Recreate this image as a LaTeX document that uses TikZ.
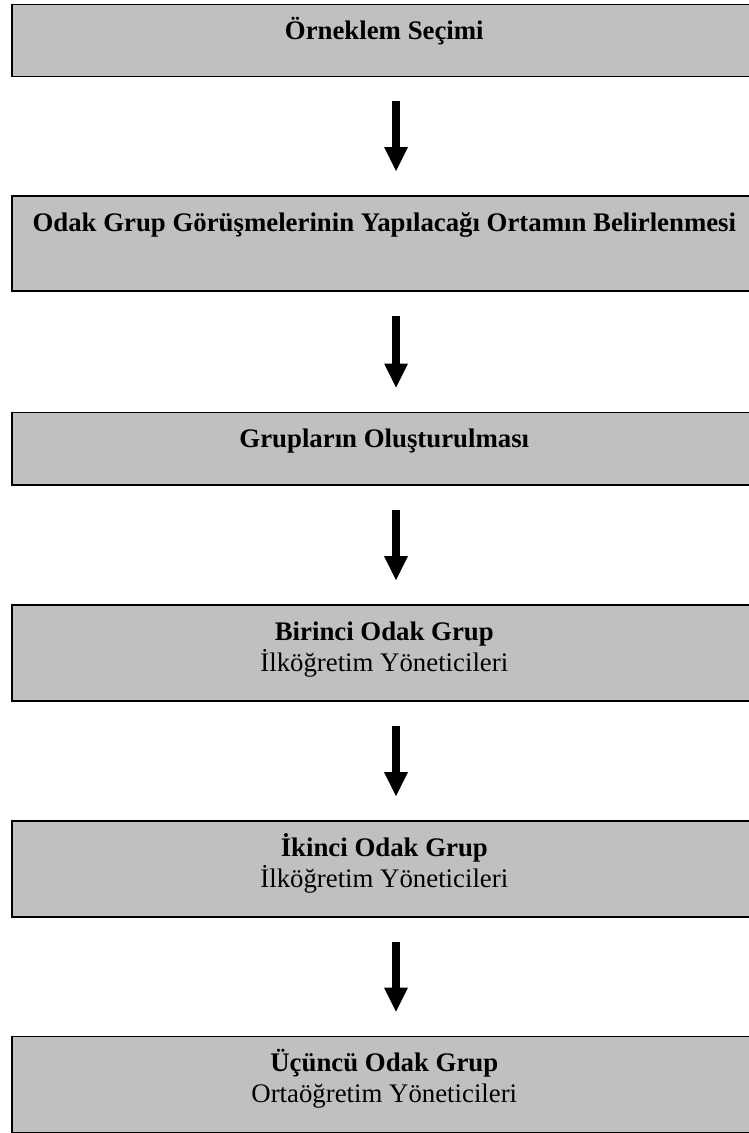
\documentclass[tikz,border=0pt]{standalone}
\usepackage{fontspec}
\setmainfont{Liberation Serif}
\usetikzlibrary{arrows.meta}

\tikzset{
  stepbox/.style={draw=black, line width=1.6pt, fill=boxgray, inner sep=0pt,
    minimum width=745pt, anchor=north},
  steptext/.style={font=\fontsize{26.8}{31}\selectfont, align=center, anchor=base, inner sep=0pt},
  flow/.style={line width=7.5pt, -{Triangle[width=24pt,length=24pt,line width=0pt]},
    shorten <=24pt, shorten >=24pt}
}
\definecolor{boxgray}{RGB}{192,192,192}

\begin{document}
\begin{tikzpicture}[x=1pt,y=1pt]

    \useasboundingbox (0,0) rectangle (749,-1133);

    % arrow column
    \coordinate (col) at (396,0);

    % sample
    \node[stepbox, minimum height=72pt] (sample) at (384.3,-3.5) {};
    \node[steptext] (sampletext) at (384.3,-39.5) {\textbf{Örneklem Seçimi}};

    % setting
    \node[stepbox, minimum height=95pt] (setting) at (384.3,-195) {};
    \node[steptext] (settingtext) at (384.3,-231.5) {\textbf{Odak Grup Görüşmelerinin Yapılacağı Ortamın Belirlenmesi}};
    \draw[flow] (sample.south -| col) to (setting.north -| col);

    % groups
    \node[stepbox, minimum height=72.5pt] (groups) at (384.3,-411.5) {};
    \node[steptext] (groupstext) at (384.3,-447.5) {\textbf{Grupların Oluşturulması}};
    \draw[flow] (setting.south -| col) to (groups.north -| col);

    % first focus group (base = second line)
    \node[stepbox, minimum height=96pt] (first) at (384.3,-604) {};
    \node[steptext] (firsttext) at (384.3,-671) {\textbf{Birinci Odak Grup}\\İlköğretim Yöneticileri};
    \draw[flow] (groups.south -| col) to (first.north -| col);

    % second focus group
    \node[stepbox, minimum height=96pt] (second) at (384.3,-820) {};
    \node[steptext] (secondtext) at (384.3,-887) {\textbf{İkinci Odak Grup}\\İlköğretim Yöneticileri};
    \draw[flow] (first.south -| col) to (second.north -| col);

    % third focus group
    \node[stepbox, minimum height=96pt] (third) at (384.3,-1035.7) {};
    \node[steptext] (thirdtext) at (384.3,-1102.7) {\textbf{Üçüncü Odak Grup}\\Ortaöğretim Yöneticileri};
    \draw[flow] (second.south -| col) to (third.north -| col);

\end{tikzpicture}
\end{document}
